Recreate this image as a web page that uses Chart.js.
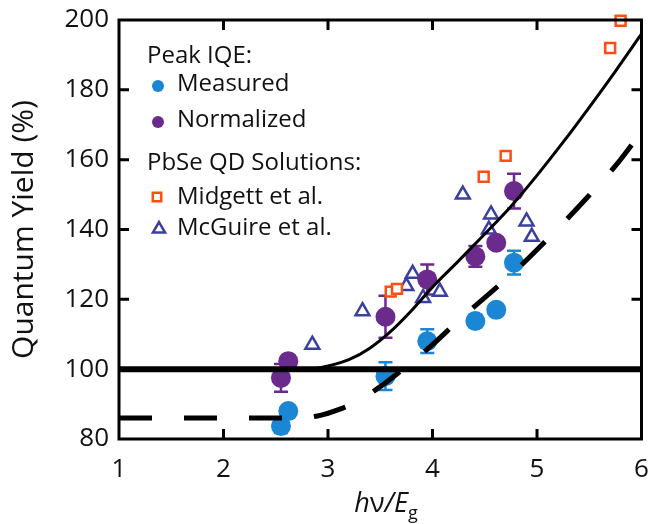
<!DOCTYPE html>
<html>
<head>
<meta charset="utf-8">
<script src="https://cdn.jsdelivr.net/npm/chart.js@4.4.0/dist/chart.umd.min.js"></script>
<style>
  html, body { margin: 0; padding: 0; background: #fff; }
</style>
</head>
<body>
<canvas id="graph" width="652" height="524"></canvas>
<script>
// peak IQE, measured (blue) and normalized (purple), with error bars
var measX = [2.55, 2.62, 3.55, 3.95, 4.41, 4.61, 4.78];
var measY = [83.7, 88.0, 98.0, 108.0, 113.8, 117.0, 130.5];
var measErr = [2.0, 0, 4.0, 3.4, 1.8, 0, 3.4];

var normX = [2.55, 2.62, 3.55, 3.95, 4.41, 4.61, 4.78];
var normY = [97.5, 102.3, 115.0, 125.7, 132.3, 136.2, 151.0];
var normErr = [4.0, 0, 6.0, 4.3, 3.0, 0, 5.0];

// PbSe QD solutions
var midgettX = [3.60, 3.66, 4.49, 4.70, 5.70, 5.80];
var midgettY = [122.2, 123.0, 155.1, 161.1, 192.0, 199.8];

var mcguireX = [2.85, 3.33, 3.75, 3.81, 3.91, 4.07, 4.29, 4.54, 4.56, 4.90, 4.95];
var mcguireY = [107.0, 116.6, 123.8, 127.3, 120.4, 122.2, 150.0, 140.0, 144.3, 142.3, 137.9];

// model curves
var solidX = [2.75, 2.9, 3.0, 3.2, 3.4, 3.6, 3.8, 4.0, 4.25, 4.5, 4.75, 5.0, 5.25, 5.5, 5.75, 6.0];
var solidY = [100, 100.3, 100.9, 102.7, 106.0, 110.8, 116.8, 123.5, 131.0, 138.7, 146.6, 155.5, 165.0, 175.0, 185.3, 196.0];

var dashX = [1, 2.7, 2.9, 3.1, 3.3, 3.5, 3.75, 4.0, 4.25, 4.5, 4.75, 5.0, 5.25, 5.5, 5.75, 6.0];
var dashY = [86, 86, 86.6, 88.4, 91.1, 95.0, 100.8, 107.0, 114.0, 120.5, 127.0, 134.2, 141.8, 149.8, 158.2, 168.0];

var unityX = [1, 6];
var unityY = [100, 100];

var xTicks = [1, 2, 3, 4, 5, 6];
var yTicks = [80, 100, 120, 140, 160, 180, 200];

var BLUE = '#1b86d3';
var PURPLE = '#6a2b8c';
var ORANGE = '#ff4e12';
var NAVY = '#3b3f9f';
var FONT = '"Open Sans", "Noto Sans", sans-serif';

function pts(xs, ys) {
  return xs.map(function (x, i) { return { x: x, y: ys[i] }; });
}

// error bars under the markers
var errorBars = {
  id: 'errorBars',
  beforeDatasetsDraw: function (chart) {
    var ctx = chart.ctx, xs = chart.scales.x, ys = chart.scales.y;
    var sets = [[measX, measY, measErr, BLUE], [normX, normY, normErr, PURPLE]];
    ctx.save();
    ctx.lineWidth = 2.5;
    sets.forEach(function (s) {
      ctx.strokeStyle = s[3];
      s[0].forEach(function (x, i) {
        if (!s[2][i]) return;
        var px = xs.getPixelForValue(x);
        var top = ys.getPixelForValue(s[1][i] + s[2][i]);
        var bot = ys.getPixelForValue(s[1][i] - s[2][i]);
        ctx.beginPath();
        ctx.moveTo(px, top); ctx.lineTo(px, bot);
        ctx.moveTo(px - 7, top); ctx.lineTo(px + 7, top);
        ctx.moveTo(px - 7, bot); ctx.lineTo(px + 7, bot);
        ctx.stroke();
      });
    });
    ctx.restore();
  }
};

// box frame, inward ticks, legend, x title
var decor = {
  id: 'decor',
  afterDraw: function (chart) {
    var ctx = chart.ctx, a = chart.chartArea;
    var xs = chart.scales.x, ys = chart.scales.y;
    ctx.save();
    ctx.strokeStyle = '#000';
    ctx.lineWidth = 3;
    ctx.strokeRect(a.left, a.top, a.right - a.left, a.bottom - a.top);
    ctx.beginPath();
    xTicks.slice(1, -1).forEach(function (v) {
      var px = xs.getPixelForValue(v);
      ctx.moveTo(px, a.bottom); ctx.lineTo(px, a.bottom - 10);
      ctx.moveTo(px, a.top); ctx.lineTo(px, a.top + 10);
    });
    yTicks.slice(1, -1).forEach(function (v) {
      var py = ys.getPixelForValue(v);
      ctx.moveTo(a.left, py); ctx.lineTo(a.left + 10, py);
      ctx.moveTo(a.right, py); ctx.lineTo(a.right - 10, py);
    });
    ctx.stroke();

    // legend
    ctx.fillStyle = '#111';
    ctx.textBaseline = 'middle';
    ctx.textAlign = 'left';
    ctx.font = '24px ' + FONT;
    ctx.fillText('Peak IQE:', 147, 56);
    ctx.fillText('Measured', 177, 84);
    ctx.fillText('Normalized', 177, 120);
    ctx.fillText('PbSe QD Solutions:', 147, 163);
    ctx.fillText('Midgett et al.', 177, 197);
    ctx.fillText('McGuire et al.', 177, 228);

    var dp = Chart.helpers.drawPoint;
    ctx.fillStyle = BLUE; ctx.strokeStyle = BLUE;
    dp(ctx, { pointStyle: 'circle', radius: 6, borderWidth: 0 }, 158, 86);
    ctx.fillStyle = PURPLE; ctx.strokeStyle = PURPLE;
    dp(ctx, { pointStyle: 'circle', radius: 6, borderWidth: 0 }, 158, 122);
    ctx.fillStyle = '#fff'; ctx.strokeStyle = ORANGE; ctx.lineWidth = 2.5;
    dp(ctx, { pointStyle: 'rect', radius: 6, borderWidth: 2.5 }, 157, 197);
    ctx.strokeStyle = NAVY;
    dp(ctx, { pointStyle: 'triangle', radius: 7, borderWidth: 2.5 }, 159, 229);

    // x axis title: italic h, upright nu, italic /E, subscript g
    ctx.fillStyle = '#111';
    ctx.textBaseline = 'alphabetic';
    var parts = [
      ['h', 'italic 27px ', 0],
      ['\u03bd', '27px ', 0],
      ['/E', 'italic 27px ', 0],
      ['g', '18px ', 7]
    ];
    var total = 0;
    parts.forEach(function (p) { ctx.font = p[1] + FONT; p.push(ctx.measureText(p[0]).width); total += p[3]; });
    var x = 386 - total / 2;
    parts.forEach(function (p) {
      ctx.font = p[1] + FONT;
      ctx.fillText(p[0], x, 512 + p[2]);
      x += p[3];
    });
    ctx.restore();
  }
};

var lineSet = function (xs, ys, width, dash) {
  return {
    type: 'line',
    data: pts(xs, ys),
    borderColor: '#000',
    borderWidth: width,
    borderDash: dash || [],
    pointRadius: 0,
    fill: false,
    cubicInterpolationMode: 'monotone'
  };
};

var config = {
  type: 'scatter',
  data: {
    datasets: [
      lineSet(unityX, unityY, 6),
      lineSet(solidX, solidY, 3),
      lineSet(dashX, dashY, 5, [33, 32]),
      {
        label: 'Measured', data: pts(measX, measY),
        pointStyle: 'circle', pointRadius: 10,
        backgroundColor: BLUE, borderColor: BLUE, borderWidth: 0, clip: false
      },
      {
        label: 'Normalized', data: pts(normX, normY),
        pointStyle: 'circle', pointRadius: 10,
        backgroundColor: PURPLE, borderColor: PURPLE, borderWidth: 0, clip: false
      },
      {
        label: 'Midgett et al.', data: pts(midgettX, midgettY),
        pointStyle: 'rect', pointRadius: 7,
        backgroundColor: '#fff', borderColor: ORANGE, borderWidth: 2.5, clip: false
      },
      {
        label: 'McGuire et al.', data: pts(mcguireX, mcguireY),
        pointStyle: 'triangle', pointRadius: 8,
        backgroundColor: '#fff', borderColor: NAVY, borderWidth: 2.5, clip: false
      }
    ]
  },
  options: {
    responsive: false,
    animation: false,
    devicePixelRatio: 1,
    layout: { padding: { left: 0, right: 7, top: 20, bottom: 0 } },
    plugins: { legend: { display: false }, tooltip: { enabled: false } },
    scales: {
      x: {
        type: 'linear', min: 1, max: 6,
        afterFit: function (s) { s.height = 85; s.paddingRight = 0; },
        afterBuildTicks: function (s) { s.ticks = xTicks.map(function (v) { return { value: v }; }); },
        grid: { display: false, drawTicks: false },
        border: { display: false },
        ticks: { color: '#111', font: { family: FONT, size: 26 }, padding: 15 }
      },
      y: {
        type: 'linear', min: 80, max: 200,
        afterFit: function (s) { s.width = 119; s.paddingTop = 0; },
        afterBuildTicks: function (s) { s.ticks = yTicks.map(function (v) { return { value: v }; }); },
        grid: { display: false, drawTicks: false },
        border: { display: false },
        ticks: { color: '#111', font: { family: FONT, size: 26 }, padding: 10 },
        title: {
          display: true, text: 'Quantum Yield (%)', color: '#111',
          font: { family: FONT, size: 30 }, padding: { top: 6, bottom: 0 }
        }
      }
    }
  },
  plugins: [errorBars, decor]
};

new Chart(document.getElementById('graph').getContext('2d'), config);
</script>
</body>
</html>
